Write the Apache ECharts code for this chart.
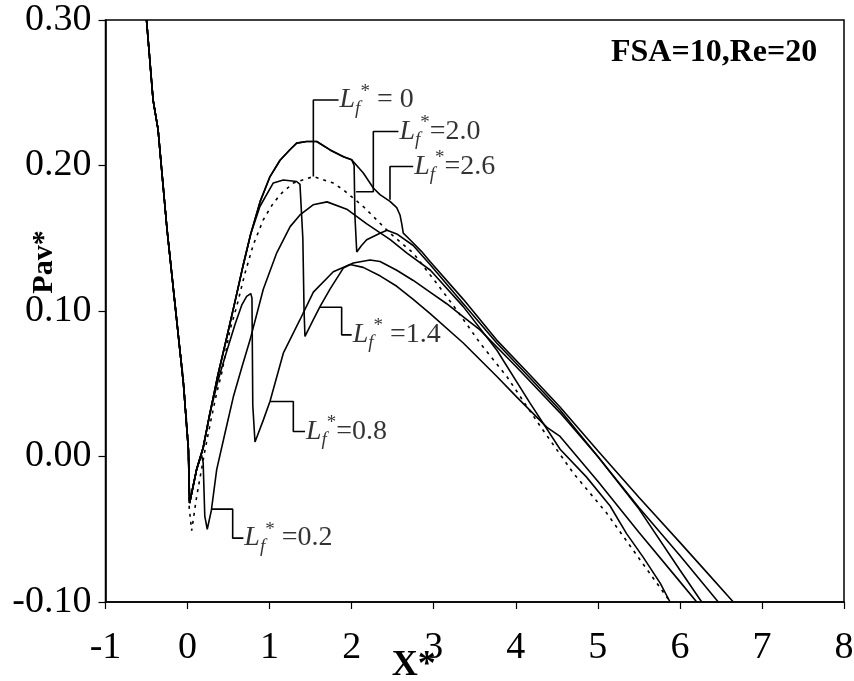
<!DOCTYPE html>
<html><head><meta charset="utf-8">
<script src="https://cdn.jsdelivr.net/npm/echarts@6/dist/echarts.min.js"></script>
<style>html,body{margin:0;padding:0;background:#fff}#c{width:854px;height:681px}</style>
</head><body><div id="c"></div>
<script>
// ---- data ----
const xTicks = [-1, 0, 1, 2, 3, 4, 5, 6, 7, 8];
const yTicks = [-0.10, 0.00, 0.10, 0.20, 0.30];
const descent = [[-0.50,0.300],[-0.42,0.245],[-0.36,0.225],[-0.25,0.156],[-0.15,0.103],[-0.05,0.050],[0.01,0.005],[0.025,-0.032]];
const rise = [[0.11,-0.009],[0.19,0.006],[0.27,0.029],[0.37,0.056],[0.47,0.080],[0.58,0.107],[0.68,0.132],[0.77,0.153]];
const upper = [[0.883,0.175],[1.005,0.1924],[1.127,0.2036],[1.25,0.211],[1.33,0.2154],[1.45,0.2165],[1.574,0.2165],[1.737,0.2107],[1.90,0.206],[2.0,0.204]];
const lf0 = [[-0.50,0.300],[-0.42,0.245],[-0.36,0.225],[-0.25,0.156],[-0.15,0.103],[-0.05,0.052],[0.01,0.008],[0.02,-0.035],[0.05,-0.051],[0.111,-0.0275],[0.213,0.0046],[0.294,0.0275],[0.355,0.0436],[0.416,0.0573],[0.517,0.0871],[0.599,0.1031],[0.70,0.126],[0.801,0.1455],[0.923,0.1627],[1.045,0.1742],[1.147,0.181],[1.289,0.1879],[1.533,0.1924],[1.776,0.1879],[1.898,0.1833],[2.142,0.1718],[2.467,0.1535],[2.751,0.1398],[3.077,0.116],[3.3,0.099],[3.564,0.078],[3.89,0.055],[4.296,0.021],[4.701,-0.0114],[5.108,-0.0389],[5.514,-0.071],[5.718,-0.087],[5.88,-0.0997]];
const lf02tail = [[0.11,-0.009],[0.17,0.001],[0.19,-0.004],[0.21,-0.041],[0.24,-0.050],[0.29,-0.037],[0.355,-0.009],[0.46,0.017],[0.558,0.041],[0.66,0.061],[0.761,0.080],[0.923,0.115],[1.087,0.140],[1.25,0.158],[1.37,0.166],[1.53,0.173],[1.70,0.175],[1.94,0.170],[2.18,0.160],[2.47,0.149],[2.67,0.140],[2.96,0.128],[3.36,0.103],[3.77,0.073],[4.17,0.037],[4.54,0.005],[4.86,-0.014],[5.15,-0.034],[5.35,-0.053],[5.55,-0.069],[5.76,-0.087],[5.88,-0.10]];
const lf08tail = [[0.37,0.052],[0.47,0.071],[0.58,0.091],[0.66,0.104],[0.72,0.110],[0.77,0.112],[0.785,0.109],[0.795,0.035],[0.822,0.010],[0.923,0.025],[1.005,0.038],[1.167,0.071],[1.37,0.094],[1.533,0.113],[1.776,0.127],[1.98,0.132],[2.14,0.130],[2.35,0.124],[2.55,0.117],[2.75,0.108],[2.96,0.098],[3.36,0.078],[3.77,0.055],[4.01,0.041],[4.38,0.020],[4.54,0.0138],[5.0,-0.017],[5.5,-0.052],[6.0,-0.086],[6.205,-0.10]];
const lf14tail = [[0.883,0.172],[1.045,0.188],[1.167,0.190],[1.33,0.189],[1.37,0.187],[1.39,0.186],[1.405,0.15],[1.42,0.10],[1.431,0.0825],[1.533,0.094],[1.614,0.103],[1.736,0.115],[1.898,0.1295],[2.02,0.133],[2.224,0.135],[2.346,0.134],[2.549,0.128],[2.751,0.121],[2.955,0.113],[3.158,0.105],[3.361,0.096],[3.564,0.087],[4.0,0.062],[4.54,0.030],[5.0,0.0],[5.5,-0.036],[6.0,-0.078],[6.266,-0.10]];
const lf20tail = [[2.03,0.200],[2.04,0.165],[2.062,0.1405],[2.12,0.145],[2.183,0.149],[2.345,0.1535],[2.43,0.1555],[2.55,0.153],[2.75,0.145],[2.955,0.132],[3.361,0.105],[3.768,0.078],[4.174,0.054],[4.539,0.032],[5.0,0.0],[5.5,-0.035],[6.0,-0.068],[6.468,-0.10]];
const lf26tail = [[2.142,0.1948],[2.264,0.1845],[2.345,0.18],[2.467,0.1753],[2.549,0.171],[2.589,0.166],[2.61,0.160],[2.629,0.1535],[2.711,0.149],[2.85,0.141],[2.955,0.134],[3.361,0.108],[3.768,0.080],[4.174,0.056],[4.539,0.034],[5.0,0.004],[5.5,-0.028],[6.0,-0.059],[6.35,-0.081],[6.651,-0.10]];
// annotation leaders and labels
const leaderText = [' = 0', '=2.0', '=2.6', ' =1.4', '=0.8', ' =0.2'];
const leader0 = [[1.533,0.1924],[1.533,0.245],[1.84,0.245]];
const leader20 = [[2.054,0.182],[2.264,0.182],[2.264,0.2234],[2.57,0.2234]];
const leader26 = [[2.467,0.1764],[2.467,0.1993],[2.75,0.1993]];
const leader14 = [[1.614,0.1026],[1.878,0.1026],[1.878,0.0836],[2.0,0.0836]];
const leader08 = [[1.005,0.0378],[1.289,0.0378],[1.289,0.0172],[1.431,0.0172]];
const leader02 = [[0.294,-0.0362],[0.55,-0.0362],[0.55,-0.0561],[0.68,-0.0561]];

// ---- build series ----
const serif = 'Liberation Serif';
const solid = {color:'#000', width:1.6, type:'solid'};
function lineSeries(name, data, style){
  return {name, type:'line', data, symbol:'none', lineStyle:style, clip:true, animation:false, z:3};
}
const r27 = rise.slice(0,3);
const r68 = rise.slice(0,7);
const series = [
  lineSeries('Lf=0', lf0, {color:'#000', width:1.6, type:[3,5]}),
  lineSeries('Lf=0.2', descent.concat(lf02tail), solid),
  lineSeries('Lf=0.8', descent.concat(r27, lf08tail), solid),
  lineSeries('Lf=1.4', descent.concat(r68, [[0.77,0.153]], lf14tail), solid),
  lineSeries('Lf=2.0', descent.concat(rise, upper, lf20tail), solid),
  lineSeries('Lf=2.6', descent.concat(rise, upper, lf26tail), solid)
];
const leaders = [leader0, leader20, leader26, leader14, leader08, leader02];
leaders.forEach((ld) => {
  series.push({type:'line', data:ld, symbol:'none', lineStyle:{color:'#000', width:1.6}, animation:false, z:4, silent:true});
});
series.push({
  type:'scatter', symbolSize:0, animation:false, z:5, silent:true,
  data: leaders.map((ld, i) => ({value: ld[ld.length-1], txt: leaderText[i]})),
  label:{show:true, position:'right', distance:1,
    formatter: p => '{L|L}{f|f}{s|*}{t|' + p.data.txt + '}',
    rich:{
      L:{fontFamily:serif, fontStyle:'italic', fontSize:28, lineHeight:36, color:'#000'},
      f:{fontFamily:serif, fontStyle:'italic', fontSize:19, lineHeight:19, verticalAlign:'bottom', color:'#000'},
      s:{fontFamily:serif, fontSize:19, lineHeight:19, verticalAlign:'top', color:'#000'},
      t:{fontFamily:serif, fontSize:28, lineHeight:36, color:'#000'}
    }}
});

const chart = echarts.init(document.getElementById('c'), null, {renderer:'canvas'});
chart.setOption({
  backgroundColor:'#fff',
  animation:false,
  title:{text:'FSA=10,Re=20', left:606, top:32,
    textStyle:{fontFamily:serif, fontWeight:'bold', fontSize:32, color:'#000'}},
  grid:{left:105.5, right:10, top:20, bottom:79, containLabel:false, outerBoundsMode:'none',
    show:true, borderColor:'#000', borderWidth:1.5, backgroundColor:'#fff'},
  xAxis:{type:'value', min:xTicks[0], max:xTicks[xTicks.length-1], interval:1,
    name:'X*', nameLocation:'middle', nameGap:46, nameMoveOverlap:false,
    nameTextStyle:{fontFamily:serif, fontWeight:'bold', fontSize:36, color:'#000', padding:[0,122,0,0]},
    axisLine:{onZero:false, lineStyle:{color:'#000', width:1.6}},
    axisTick:{show:true, inside:false, length:7, lineStyle:{color:'#000', width:1.2}},
    splitLine:{show:false},
    axisLabel:{fontFamily:serif, fontSize:38, color:'#000', margin:27, formatter: v => String(v)}},
  yAxis:{type:'value', min:yTicks[0], max:yTicks[yTicks.length-1], interval:0.1,
    name:'Pav*', nameLocation:'middle', nameGap:46, nameRotate:90, nameMoveOverlap:false,
    nameTextStyle:{fontFamily:serif, fontWeight:'bold', fontSize:30, color:'#000', padding:[0,0,0,98]},
    axisLine:{onZero:false, lineStyle:{color:'#000', width:1.6}},
    axisTick:{show:true, inside:false, length:7, lineStyle:{color:'#000', width:1.2}},
    splitLine:{show:false},
    axisLabel:{fontFamily:serif, fontSize:38, color:'#000', margin:14, formatter: v => v.toFixed(2)}},
  series
});
</script></body></html>
